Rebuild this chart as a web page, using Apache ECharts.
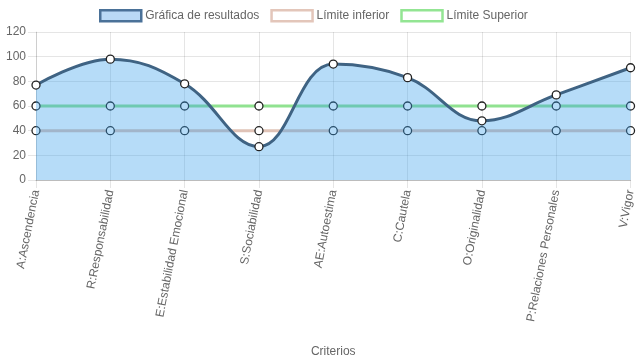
<!DOCTYPE html>
<html><head><meta charset="utf-8">
<script src="https://cdn.jsdelivr.net/npm/echarts@6/dist/echarts.min.js"></script>
<style>html,body{margin:0;padding:0;background:#fff}#c{width:637px;height:359px}</style>
</head><body><div id="c"></div>
<script>
const categories = ["A:Ascendencia","R:Responsabilidad","E:Estabilidad Emocional","S:Sociabilidad","AE:Autoestima","C:Cautela","O:Originalidad","P:Relaciones Personales","V:Vigor"];
const resultados = [77, 98, 78, 27, 94, 83, 48, 69, 91];
const limiteInferior = [40, 40, 40, 40, 40, 40, 40, 40, 40];
const limiteSuperior = [60, 60, 60, 60, 60, 60, 60, 60, 60];
const yTicks = { min: 0, max: 120, interval: 20 };

const font = 'Liberation Sans, Arial, Helvetica, sans-serif';
const chart = echarts.init(document.getElementById('c'));
const pointStyle = { color: '#fff', borderColor: '#222', borderWidth: 1.3 };
chart.setOption({
  animation: false,
  textStyle: { fontFamily: font },
  legend: {
    top: 4, left: 94, itemWidth: 41, itemHeight: 11, itemGap: 11,
    icon: 'rect',
    textStyle: { color: '#666', fontSize: 12, fontFamily: font, padding: [0, 0, 0, -1] },
    data: [
      { name: 'Gráfica de resultados', itemStyle: { color: '#b9d9f6', borderColor: '#4a7198', borderWidth: 2.5 } },
      { name: 'Límite inferior', itemStyle: { color: '#fff', borderColor: '#e3c6ba', borderWidth: 2.5 } },
      { name: 'Límite Superior', itemStyle: { color: '#fff', borderColor: '#93e593', borderWidth: 2.5 } }
    ]
  },
  grid: { left: 36, right: 3, top: 32, bottom: 179, containLabel: false },
  xAxis: {
    type: 'category', data: categories, boundaryGap: false,
    name: 'Criterios', nameLocation: 'middle', nameGap: 166,
    nameTextStyle: { color: '#666', fontSize: 12, fontFamily: font },
    axisLine: { show: true, lineStyle: { color: 'rgba(0,0,0,0.18)', width: 1 } },
    axisTick: { show: true, length: 8, lineStyle: { color: 'rgba(0,0,0,0.1)' } },
    axisLabel: { rotate: 79, color: '#666', fontSize: 12, margin: 10, fontFamily: font },
    splitLine: { show: true, lineStyle: { color: 'rgba(0,0,0,0.1)' } }
  },
  yAxis: {
    type: 'value', min: yTicks.min, max: yTicks.max, interval: yTicks.interval,
    axisLine: { show: true, lineStyle: { color: 'rgba(0,0,0,0.1)' } },
    axisTick: { show: true, length: 8, lineStyle: { color: 'rgba(0,0,0,0.1)' } },
    axisLabel: { color: '#666', fontSize: 12, margin: 10, fontFamily: font },
    splitLine: { show: true, lineStyle: { color: 'rgba(0,0,0,0.1)' } }
  },
  series: [
    {
      name: 'Límite inferior', type: 'line', data: limiteInferior, z: 2,
      lineStyle: { color: '#e0c3b7', width: 3 },
      itemStyle: pointStyle, symbol: 'circle', symbolSize: 8, showAllSymbol: true
    },
    {
      name: 'Límite Superior', type: 'line', data: limiteSuperior, z: 2,
      lineStyle: { color: '#90e290', width: 3 },
      itemStyle: pointStyle, symbol: 'circle', symbolSize: 8, showAllSymbol: true
    },
    {
      name: 'Gráfica de resultados', type: 'line', data: resultados, z: 5,
      smooth: 0.4,
      lineStyle: { color: '#3f6383', width: 3 },
      areaStyle: { color: 'rgba(54,157,235,0.36)', opacity: 1, origin: 'start' },
      itemStyle: pointStyle, symbol: 'circle', symbolSize: 8, showAllSymbol: true
    }
  ]
});
</script></body></html>
